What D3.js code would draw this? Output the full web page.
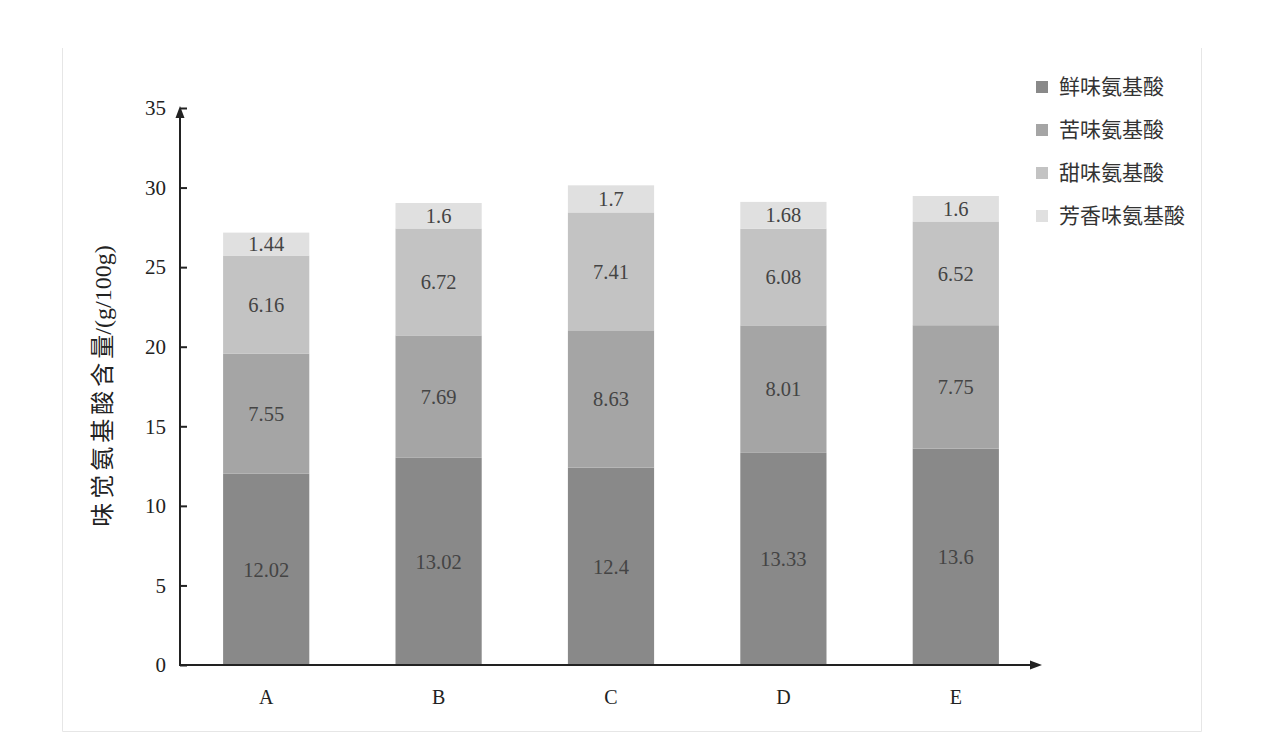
<!DOCTYPE html>
<html><head><meta charset="utf-8">
<script src="https://cdn.jsdelivr.net/npm/d3@7"></script>
<style>
body{margin:0;background:#fff;}
svg{display:block;}
text{font-family:"Liberation Serif","Times New Roman","Noto Sans CJK SC",serif;}
</style></head>
<body>
<svg id="c" width="1270" height="732"></svg>
<script>
const categories = ["A","B","C","D","E"];
const seriesNames = ["鲜味氨基酸","苦味氨基酸","甜味氨基酸","芳香味氨基酸"];
const umami  = [12.02, 13.02, 12.4, 13.33, 13.6];
const bitter = [7.55, 7.69, 8.63, 8.01, 7.75];
const sweet  = [6.16, 6.72, 7.41, 6.08, 6.52];
const aroma  = [1.44, 1.6, 1.7, 1.68, 1.6];
const yTicks = [0,5,10,15,20,25,30,35];
const yTitleMain = "味觉氨基酸含";
const yTitleUnit = "量/(g/100g)";
const colors = ["#898989","#a5a5a5","#c3c3c3","#e0e0e0"];

const seriesVals = [umami, bitter, sweet, aroma];
const rows = categories.map((c,i)=>{
  const r = {cat:c};
  seriesNames.forEach((s,k)=> r[s]=seriesVals[k][i]);
  return r;
});
const stack = d3.stack().keys(seriesNames)(rows);

const svg = d3.select("#c");
// frame
svg.append("path").attr("d","M62.5,48 V731.5 H1201.5 V48")
  .attr("fill","none").attr("stroke","#e6e6e6").attr("stroke-width",1);

const x = d3.scaleBand().domain(categories).range([180,1042]).paddingInner(0.5).paddingOuter(0.25);
const y = d3.scaleLinear().domain([0,35]).range([665,108]);

const g = svg.append("g");
stack.forEach((layer,k)=>{
  g.selectAll(null).data(layer).enter().append("rect")
    .attr("x",d=>x(d.data.cat))
    .attr("width",x.bandwidth())
    .attr("y",d=>y(d[1]))
    .attr("height",d=>y(d[0])-y(d[1]))
    .attr("fill",colors[k]);
  g.selectAll(null).data(layer).enter().append("text")
    .attr("x",d=>x(d.data.cat)+x.bandwidth()/2)
    .attr("y",d=>(y(d[0])+y(d[1]))/2)
    .attr("dy","0.35em")
    .attr("text-anchor","middle")
    .attr("font-size",20.5)
    .attr("fill","#444")
    .text(d=>String(d.data[seriesNames[k]]));
});

// y axis
const yAxis = d3.axisRight(y).tickValues(yTicks).tickSize(7).tickFormat("");
const ya = svg.append("g").attr("transform","translate(180,0)").call(yAxis);
ya.select(".domain").remove();
ya.selectAll("line").attr("stroke","#222").attr("stroke-width",2);
svg.append("g").selectAll("text").data(yTicks).enter().append("text")
  .attr("x",166).attr("y",d=>y(d)).attr("dy","0.35em")
  .attr("text-anchor","end").attr("font-size",21).attr("fill","#222").text(d=>d);

svg.append("line").attr("x1",180).attr("x2",180).attr("y1",666).attr("y2",116)
  .attr("stroke","#222").attr("stroke-width",2);
svg.append("path").attr("d","M180,106 L175.5,118 L184.5,118 Z").attr("fill","#222");
svg.append("line").attr("x1",179).attr("x2",1032).attr("y1",665).attr("y2",665)
  .attr("stroke","#222").attr("stroke-width",2);
svg.append("path").attr("d","M1042,665 L1030,660.5 L1030,669.5 Z").attr("fill","#222");

// x labels
svg.append("g").selectAll("text").data(categories).enter().append("text")
  .attr("x",d=>x(d)+x.bandwidth()/2).attr("y",697).attr("dy","0.35em")
  .attr("text-anchor","middle").attr("font-size",20).attr("fill","#222").text(d=>d);

// y title
const t = svg.append("text").attr("transform","translate(103,386) rotate(-90)")
  .attr("dy","0.35em").attr("text-anchor","middle").attr("font-size",24)
  .attr("fill","#222");
t.append("tspan").attr("letter-spacing",4).text(yTitleMain);
t.append("tspan").text(yTitleUnit);

// legend
const lg = svg.append("g");
seriesNames.forEach((s,k)=>{
  const yy = 87 + k*43;
  lg.append("rect").attr("x",1036).attr("y",yy-6).attr("width",12).attr("height",12).attr("fill",colors[k]);
  lg.append("text").attr("x",1059).attr("y",yy).attr("dy","0.35em")
    .attr("font-size",21).attr("fill","#333").text(s);
});
</script>
</body></html>
